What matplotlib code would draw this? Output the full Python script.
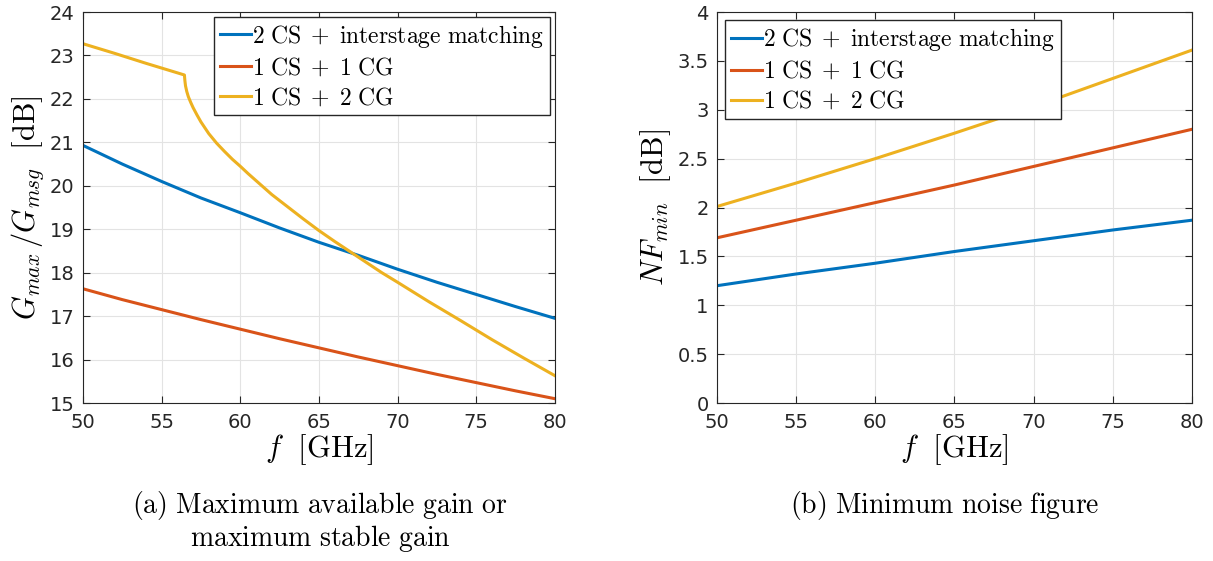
import numpy as np
import matplotlib
matplotlib.use("Agg")
import matplotlib.pyplot as plt

plt.rcParams["mathtext.fontset"] = "cm"
plt.rcParams["font.family"] = "DejaVu Sans"

# (a) gain curves
f_gain = [50, 52.5, 55, 57.5, 60, 62.5, 65, 67.5, 70, 72.5, 75, 77.5, 80]
gain_2cs = [20.93, 20.5, 20.1, 19.72, 19.38, 19.03, 18.7, 18.4, 18.08, 17.78, 17.5, 17.22, 16.95]
gain_cs_cg = [17.63, 17.38, 17.15, 16.92, 16.7, 16.48, 16.27, 16.06, 15.86, 15.66, 15.47, 15.28, 15.1]

f_gain_2cg = [50, 52, 54, 56, 56.45, 56.48, 56.52, 56.6, 56.7, 56.85, 57, 57.25, 57.5, 58, 58.5,
              59, 59.5, 60, 60.5, 61, 61.5, 62, 62.5, 63, 64, 65, 66, 67, 68, 69, 70, 72, 74,
              76, 78, 80]
gain_cs_2cg = [23.27, 23.05, 22.82, 22.6, 22.55, 22.42, 22.3, 22.17, 22.05, 21.92, 21.8, 21.63,
               21.47, 21.2, 20.98, 20.79, 20.61, 20.45, 20.28, 20.12, 19.96, 19.8, 19.66,
               19.52, 19.24, 18.97, 18.72, 18.48, 18.24, 18.0, 17.78, 17.33, 16.9, 16.46,
               16.04, 15.63]

# (b) minimum noise figure
f_nf = [50, 55, 60, 65, 70, 75, 80]
nf_2cs = [1.2, 1.32, 1.43, 1.55, 1.66, 1.77, 1.87]
nf_cs_cg = [1.69, 1.87, 2.05, 2.23, 2.42, 2.61, 2.80]
nf_cs_2cg = [2.01, 2.25, 2.5, 2.76, 3.03, 3.32, 3.61]

LABELS = [r"$\mathrm{2\ CS\;+\;interstage\ matching}$",
          r"$\mathrm{1\ CS\;+\;1\ CG}$",
          r"$\mathrm{1\ CS\;+\;2\ CG}$"]
COLORS = ["#0072BD", "#D95319", "#EDB120"]

fig = plt.figure(figsize=(12.13, 5.61), dpi=100)
ax1 = fig.add_axes([0.0684, 0.2816, 0.389, 0.697])
ax2 = fig.add_axes([0.591, 0.2816, 0.3916, 0.697])

LEG = dict(fontsize=17, handlelength=1.3, handletextpad=0.05, borderpad=0.25,
           labelspacing=0.25, fancybox=False, edgecolor="#262626", framealpha=1)


def style_axes(ax):
    ax.set_xlim(50, 80)
    ax.set_xticks(np.arange(50, 81, 5))
    ax.grid(True, color="#e3e3e3", linewidth=0.8)
    ax.set_axisbelow(True)
    ax.tick_params(direction="in", top=True, right=True, labelsize=14,
                   colors="#262626", length=5)
    ax.tick_params(axis="y", pad=6)
    ax.tick_params(axis="x", pad=7)
    for sp in ax.spines.values():
        sp.set_color("#262626")
        sp.set_linewidth(0.8)
    ax.set_xlabel(r"$f\ \ [\mathrm{GHz}]$", fontsize=22, labelpad=0)


ax1.plot(f_gain, gain_2cs, color=COLORS[0], lw=2.2, label=LABELS[0])
ax1.plot(f_gain, gain_cs_cg, color=COLORS[1], lw=2.2, label=LABELS[1])
ax1.plot(f_gain_2cg, gain_cs_2cg, color=COLORS[2], lw=2.2, label=LABELS[2])
style_axes(ax1)
ax1.set_ylim(15, 24)
ax1.set_yticks(np.arange(15, 25, 1))
ax1.set_ylabel(r"$G_{max}\,/G_{msg}\ \ [\mathrm{dB}]$", fontsize=22, labelpad=3)
ax1.legend(loc="upper right", borderaxespad=0.2, **LEG)

ax2.plot(f_nf, nf_2cs, color=COLORS[0], lw=2.2, label=LABELS[0])
ax2.plot(f_nf, nf_cs_cg, color=COLORS[1], lw=2.2, label=LABELS[1])
ax2.plot(f_nf, nf_cs_2cg, color=COLORS[2], lw=2.2, label=LABELS[2])
style_axes(ax2)
ax2.set_ylim(0, 4)
ax2.set_yticks(np.arange(0, 4.01, 0.5))
ax2.set_yticklabels(["0", "0.5", "1", "1.5", "2", "2.5", "3", "3.5", "4"])
ax2.set_ylabel(r"$NF_{min}\ \ [\mathrm{dB}]$", fontsize=22, labelpad=3)
ax2.legend(loc="upper left", borderaxespad=0.35, **LEG)

fig.text(320 / 1213, 1 - 505 / 561, r"$\mathrm{(a)\ Maximum\ available\ gain\ or}$",
         ha="center", va="center", fontsize=20)
fig.text(320 / 1213, 1 - 538 / 561, r"$\mathrm{maximum\ stable\ gain}$",
         ha="center", va="center", fontsize=20)
fig.text(945 / 1213, 1 - 505 / 561, r"$\mathrm{(b)\ Minimum\ noise\ figure}$",
         ha="center", va="center", fontsize=20)

fig.savefig("out.png", dpi=100)
plt.close(fig)
